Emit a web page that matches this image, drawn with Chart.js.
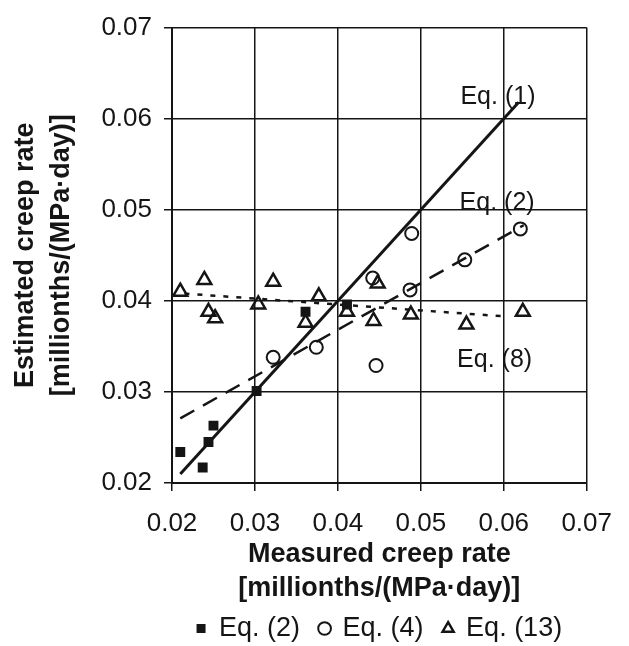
<!DOCTYPE html>
<html>
<head>
<meta charset="utf-8">
<script src="https://cdn.jsdelivr.net/npm/chart.js@4/dist/chart.umd.min.js"></script>
<style>
  html, body { margin: 0; padding: 0; background: #fff; }
  #wrap { width: 629px; height: 646px; }
</style>
</head>
<body>
<div id="wrap"><canvas id="c" width="629" height="646"></canvas></div>
<script>
// Axis ticks (creep rate, millionths/(MPa·day))
const xTicks = [0.02, 0.03, 0.04, 0.05, 0.06, 0.07];
const yTicks = [0.02, 0.03, 0.04, 0.05, 0.06, 0.07];

// Measured vs. estimated creep rate, one series per prediction equation
const eq2X  = [0.0210, 0.0237, 0.0244, 0.0250, 0.0302, 0.0361, 0.0411];
const eq2Y  = [0.0234, 0.0217, 0.0245, 0.0263, 0.0301, 0.0388, 0.0396];

const eq4X  = [0.0322, 0.0374, 0.0446, 0.0442, 0.0489, 0.0487, 0.0553, 0.0620];
const eq4Y  = [0.0338, 0.0349, 0.0329, 0.0425, 0.0474, 0.0412, 0.0445, 0.0479];

const eq13X = [0.0210, 0.0239, 0.0244, 0.0252, 0.0304, 0.0322, 0.0377, 0.0361, 0.0411, 0.0443, 0.0448, 0.0488, 0.0555, 0.0623];
const eq13Y = [0.0410, 0.0423, 0.0388, 0.0381, 0.0396, 0.0421, 0.0405, 0.0376, 0.0388, 0.0378, 0.0419, 0.0385, 0.0374, 0.0388];

// Trend lines (end points)
const fit1X = [0.0210, 0.0618];
const fit1Y = [0.0210, 0.0618];
const fit2X = [0.0210, 0.0624];
const fit2Y = [0.0271, 0.0483];
const fit8X = [0.0215, 0.0600];
const fit8Y = [0.0408, 0.0383];

// Line captions
const captionText = ['Eq. (1)', 'Eq. (2)', 'Eq. (8)'];
const captionX    = [0.0593, 0.0592, 0.0589];
const captionY    = [0.0624, 0.0507, 0.0335];

const pts = (xs, ys) => xs.map((x, i) => ({ x: x, y: ys[i] }));
const INK = '#151515';
const FONT = "'Liberation Sans', Arial, Helvetica, sans-serif";

const captions = {
  id: 'captions',
  afterDatasetsDraw(chart) {
    const { ctx, scales: { x, y } } = chart;
    ctx.save();
    ctx.fillStyle = INK;
    ctx.font = '25px ' + FONT;
    ctx.textAlign = 'center';
    ctx.textBaseline = 'middle';
    captionText.forEach((t, i) => {
      ctx.fillText(t, x.getPixelForValue(captionX[i]), y.getPixelForValue(captionY[i]));
    });
    ctx.restore();
  }
};

const lineDs = (label, xs, ys, width, dash) => ({
  type: 'line',
  label: label,
  data: pts(xs, ys),
  borderColor: INK,
  borderWidth: width,
  borderDash: dash,
  pointRadius: 0,
  fill: false,
  tension: 0
});

new Chart(document.getElementById('c'), {
  type: 'scatter',
  data: {
    datasets: [
      { label: 'Eq. (2)', data: pts(eq2X, eq2Y), pointStyle: 'rect', pointRadius: 7,
        backgroundColor: INK, borderColor: INK, borderWidth: 0 },
      { label: 'Eq. (4)', data: pts(eq4X, eq4Y), pointStyle: 'circle', pointRadius: 6.5,
        backgroundColor: 'rgba(255,255,255,0)', borderColor: INK, borderWidth: 2 },
      { label: 'Eq. (13)', data: pts(eq13X, eq13Y), pointStyle: 'triangle', pointRadius: 8,
        backgroundColor: 'rgba(255,255,255,0)', borderColor: INK, borderWidth: 2.5 },
      lineDs('fit1', fit1X, fit1Y, 3, []),
      lineDs('fit2', fit2X, fit2Y, 2.5, [16, 10]),
      lineDs('fit8', fit8X, fit8Y, 2.5, [5, 8])
    ]
  },
  options: {
    responsive: false,
    animation: false,
    devicePixelRatio: 1,
    layout: { padding: { top: 22, right: 42, left: 0, bottom: -6 } },
    scales: {
      x: {
        type: 'linear',
        min: 0.02, max: 0.07,
        afterBuildTicks: s => { s.ticks = xTicks.map(v => ({ value: v })); },
        afterFit: s => { s.height = 112; },
        ticks: {
          callback: v => v.toFixed(2),
          color: INK,
          font: { family: FONT, size: 26 },
          padding: 17
        },
        grid: { color: INK, lineWidth: 1.5, tickLength: 8, tickColor: INK },
        border: { color: INK, width: 2 },
        title: {
          display: true,
          text: ['Measured creep rate', '[millionths/(MPa·day)]'],
          color: INK,
          font: { family: FONT, size: 27, weight: 'bold', lineHeight: 1.26 },
          padding: { top: 0, bottom: -11 }
        }
      },
      y: {
        type: 'linear',
        min: 0.02, max: 0.07,
        afterBuildTicks: s => { s.ticks = yTicks.map(v => ({ value: v })); },
        afterFit: s => { s.width = 172; },
        ticks: {
          callback: v => v.toFixed(2),
          color: INK,
          font: { family: FONT, size: 26 },
          padding: 12
        },
        grid: { color: INK, lineWidth: 1.5, tickLength: 8, tickColor: INK },
        border: { color: INK, width: 2 },
        title: {
          display: true,
          text: ['Estimated creep rate', '[millionths/(MPa·day)]'],
          color: INK,
          font: { family: FONT, size: 27, weight: 'bold', lineHeight: 1.32 },
          padding: { top: 8, bottom: 0 }
        }
      }
    },
    plugins: {
      legend: {
        position: 'bottom',
        fullSize: false,
        labels: {
          filter: item => item.datasetIndex < 3,
          usePointStyle: true,
          boxWidth: 9,
          boxHeight: 9,
          padding: 20,
          color: INK,
          font: { family: FONT, size: 27 }
        }
      },
      tooltip: { enabled: false }
    }
  },
  plugins: [captions]
});
</script>
</body>
</html>
